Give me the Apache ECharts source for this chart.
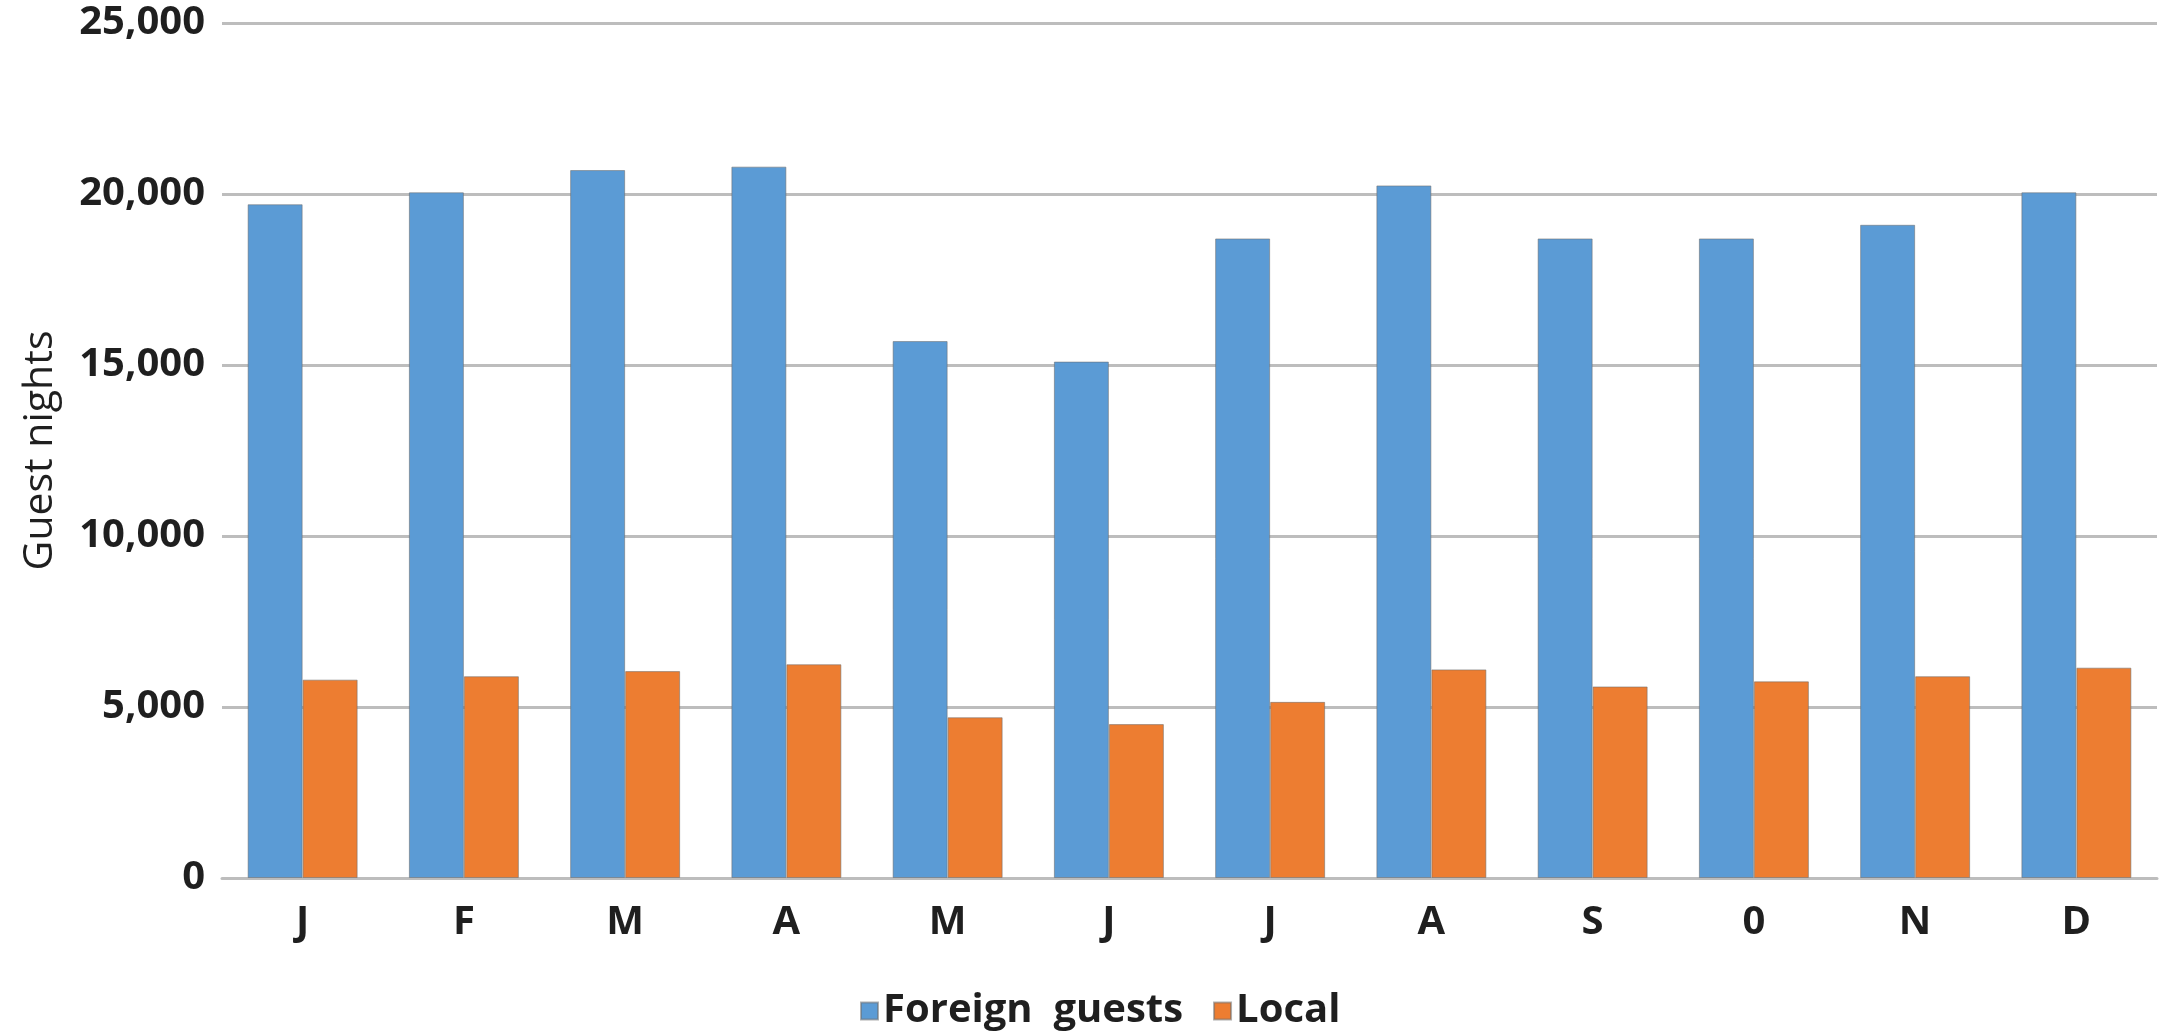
<!DOCTYPE html>
<html>
<head>
<meta charset="utf-8">
<title>Guest nights by month</title>
<script src="https://cdn.jsdelivr.net/npm/echarts@6/dist/echarts.min.js"></script>
<style>
  html, body { margin: 0; padding: 0; background: #ffffff; }
  #chart { width: 2167px; height: 1031px; }
</style>
</head>
<body>
<div id="chart"></div>
<script>
// Monthly guest nights, split by origin of guest
const months = ['J', 'F', 'M', 'A', 'M', 'J', 'J', 'A', 'S', '0', 'N', 'D'];
const foreignGuests = [19700, 20050, 20700, 20800, 15700, 15100, 18700, 20250, 18700, 18700, 19100, 20050];
const localGuests = [5800, 5900, 6050, 6250, 4700, 4500, 5150, 6100, 5600, 5750, 5900, 6150];
const yTicks = { min: 0, max: 25000, interval: 5000 };

const textColor = '#1f1f1f';
const gridColor = '#bdbdbd';
const fontFamily = 'Open Sans';

const chart = echarts.init(document.getElementById('chart'), null, { renderer: 'canvas' });

chart.setOption({
  animation: false,
  backgroundColor: '#ffffff',
  textStyle: { fontFamily: fontFamily, color: textColor },
  grid: { left: 222, right: 10, top: 23, bottom: 153, containLabel: false },
  legend: {
    top: 986,
    left: 855,
    itemWidth: 17,
    itemHeight: 17,
    itemGap: 30,
    icon: 'rect',
    textStyle: { fontFamily: fontFamily, fontSize: 40, fontWeight: 'bold', color: textColor },
    data: ['Foreign  guests', 'Local']
  },
  xAxis: {
    type: 'category',
    data: months,
    axisLine: { show: true, lineStyle: { color: gridColor, width: 3 } },
    axisTick: { show: false },
    axisLabel: { fontFamily: fontFamily, fontSize: 40, fontWeight: 'bold', color: textColor, margin: 25 },
    splitLine: { show: false }
  },
  yAxis: {
    type: 'value',
    min: yTicks.min,
    max: yTicks.max,
    interval: yTicks.interval,
    name: 'Guest nights',
    nameLocation: 'middle',
    nameGap: 161,
    nameRotate: 90,
    nameTextStyle: { fontFamily: fontFamily, fontSize: 41, color: textColor },
    axisLine: { show: false },
    axisTick: { show: false },
    axisLabel: {
      fontFamily: fontFamily,
      fontSize: 40,
      fontWeight: 'bold',
      color: textColor,
      margin: 17,
      formatter: function (v) { return v.toLocaleString('en-US'); }
    },
    splitLine: { show: true, lineStyle: { color: gridColor, width: 3 } }
  },
  series: [
    {
      name: 'Foreign  guests',
      type: 'bar',
      data: foreignGuests,
      barWidth: 55,
      barGap: '0%',
      itemStyle: { color: '#5b9bd5', borderColor: 'rgba(110,110,110,0.55)', borderWidth: 1 }
    },
    {
      name: 'Local',
      type: 'bar',
      data: localGuests,
      barWidth: 55,
      barGap: '0%',
      itemStyle: { color: '#ed7d31', borderColor: 'rgba(110,110,110,0.55)', borderWidth: 1 }
    }
  ]
});
</script>
</body>
</html>
